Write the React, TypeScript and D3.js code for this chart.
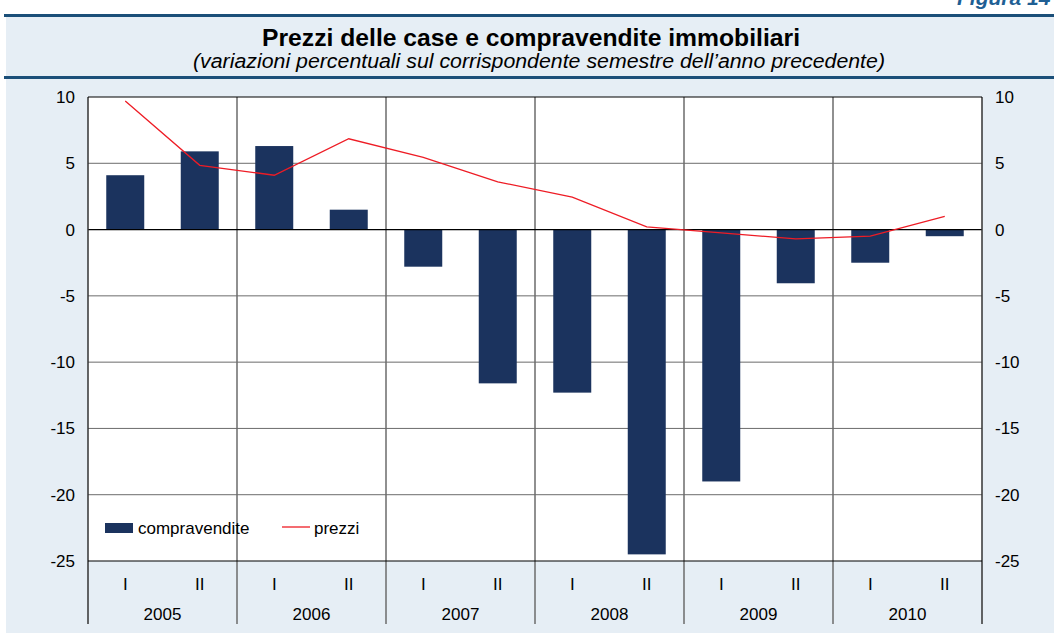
import React, { useEffect, useRef } from 'react'
import * as d3 from 'd3'

const years = ['2005', '2006', '2007', '2008', '2009', '2010']
const halves = ['I', 'II']
const compravendite = [4.1, 5.9, 6.3, 1.5, -2.8, -11.6, -12.3, -24.5, -19.0, -4.05, -2.5, -0.5]
const prezzi = [9.7, 4.85, 4.1, 6.85, 5.45, 3.6, 2.45, 0.2, -0.25, -0.7, -0.5, 1.0]
const yTicks = [10, 5, 0, -5, -10, -15, -20, -25]

const App = () => {
  const svgRef = useRef<SVGSVGElement>(null)

  useEffect(() => {
    const width = 1054
    const height = 635
    const left = 88
    const right = 982
    const top = 97
    const bottom = 561
    const font = 'Liberation Sans, Arial, sans-serif'
    const fs = 17

    const svg = d3.select(svgRef.current)
    svg.selectAll('*').remove()
    svg.attr('width', width).attr('height', height).attr('font-family', font)

    const cats = years.flatMap(yr => halves.map(h => `${yr}-${h}`))

    const x = d3.scaleBand().domain(cats).range([left, right]).paddingInner(0.49).paddingOuter(0.245)
    const xc = d3.scaleBand().domain(cats).range([left, right])
    const xYear = d3.scaleBand().domain(years).range([left, right])
    const y = d3.scaleLinear().domain([-25, 10]).range([bottom, top])

    // background and header
    svg.append('rect').attr('x', 6).attr('y', 16).attr('width', width - 6).attr('height', 617).attr('fill', '#e6eef5')
    svg.append('rect').attr('x', 4).attr('y', 14).attr('width', width - 4).attr('height', 3).attr('fill', '#1b4f79')
    svg.append('rect').attr('x', 4).attr('y', 76).attr('width', width - 4).attr('height', 3).attr('fill', '#1b4f79')
    svg.append('text').attr('x', 957).attr('y', 5).attr('fill', '#1f5f94')
      .attr('font-size', 21).attr('font-weight', 'bold').attr('font-style', 'italic').text('Figura 14')
    svg.append('text').attr('x', 531).attr('y', 46).attr('text-anchor', 'middle')
      .attr('font-size', 24.5).attr('font-weight', 'bold')
      .attr('textLength', 538).attr('lengthAdjust', 'spacingAndGlyphs')
      .text('Prezzi delle case e compravendite immobiliari')
    svg.append('text').attr('x', 539).attr('y', 68).attr('text-anchor', 'middle')
      .attr('font-size', 19.5).attr('font-style', 'italic')
      .attr('textLength', 692).attr('lengthAdjust', 'spacingAndGlyphs')
      .text('(variazioni percentuali sul corrispondente semestre dell\u2019anno precedente)')

    // plot area
    svg.append('rect').attr('x', left).attr('y', top).attr('width', right - left).attr('height', bottom - top).attr('fill', '#fff')

    // horizontal grid
    svg.append('g').selectAll('line').data(yTicks.filter(d => d !== 0 && d !== -25 && d !== 10)).join('line')
      .attr('x1', left).attr('x2', right).attr('y1', d => y(d)).attr('y2', d => y(d))
      .attr('stroke', '#6b6b6b').attr('stroke-width', 1)

    // year separators
    svg.append('g').selectAll('line').data(years.slice(1)).join('line')
      .attr('x1', d => xYear(d)!).attr('x2', d => xYear(d)!)
      .attr('y1', top).attr('y2', 624)
      .attr('stroke', '#6b6b6b').attr('stroke-width', 1.5)

    // bars
    svg.append('g').selectAll('rect').data(compravendite).join('rect')
      .attr('x', (d, i) => x(cats[i])!)
      .attr('width', x.bandwidth())
      .attr('y', d => y(Math.max(0, d)))
      .attr('height', d => Math.abs(y(d) - y(0)))
      .attr('fill', '#1b335e')

    // zero line
    svg.append('line').attr('x1', left).attr('x2', right).attr('y1', y(0)).attr('y2', y(0)).attr('stroke', '#000').attr('stroke-width', 1.2)

    // line
    const line = d3.line<number>()
      .x((d, i) => xc(cats[i])! + xc.bandwidth() / 2)
      .y(d => y(d))
    svg.append('path').attr('d', line(prezzi)).attr('fill', 'none').attr('stroke', '#ee1c25').attr('stroke-width', 1.3)

    // frame
    svg.append('line').attr('x1', left).attr('x2', left).attr('y1', top).attr('y2', 624).attr('stroke', '#333').attr('stroke-width', 1.5)
    svg.append('line').attr('x1', right).attr('x2', right).attr('y1', top).attr('y2', 624).attr('stroke', '#333').attr('stroke-width', 1.5)
    svg.append('line').attr('x1', left).attr('x2', right).attr('y1', top).attr('y2', top).attr('stroke', '#000').attr('stroke-width', 1.2)
    svg.append('line').attr('x1', left).attr('x2', right).attr('y1', bottom).attr('y2', bottom).attr('stroke', '#000').attr('stroke-width', 1.2)

    // y labels
    svg.append('g').selectAll('text').data(yTicks).join('text')
      .attr('x', 75).attr('y', d => y(d) + 6).attr('text-anchor', 'end').attr('font-size', fs).text(d => d)
    svg.append('g').selectAll('text').data(yTicks).join('text')
      .attr('x', 995).attr('y', d => y(d) + 6).attr('text-anchor', 'start').attr('font-size', fs).text(d => d)

    // x labels
    svg.append('g').selectAll('text').data(cats).join('text')
      .attr('x', d => xc(d)! + xc.bandwidth() / 2).attr('y', 590).attr('text-anchor', 'middle')
      .attr('font-size', fs).text(d => d.split('-')[1])
    svg.append('g').selectAll('text').data(years).join('text')
      .attr('x', d => xYear(d)! + xYear.bandwidth() / 2).attr('y', 620).attr('text-anchor', 'middle')
      .attr('font-size', fs).text(d => d)

    // legend
    const lg = svg.append('g')
    lg.append('rect').attr('x', 105).attr('y', 523).attr('width', 28).attr('height', 10).attr('fill', '#1b335e')
    lg.append('text').attr('x', 138).attr('y', 534).attr('font-size', fs).text('compravendite')
    lg.append('line').attr('x1', 282).attr('x2', 310).attr('y1', 527).attr('y2', 527).attr('stroke', '#ee1c25').attr('stroke-width', 1.3)
    lg.append('text').attr('x', 314).attr('y', 534).attr('font-size', fs).text('prezzi')
  }, [])

  return (
    <svg ref={svgRef} style={{ position: 'absolute', left: 0, top: 0 }} />
  )
}

export default App
